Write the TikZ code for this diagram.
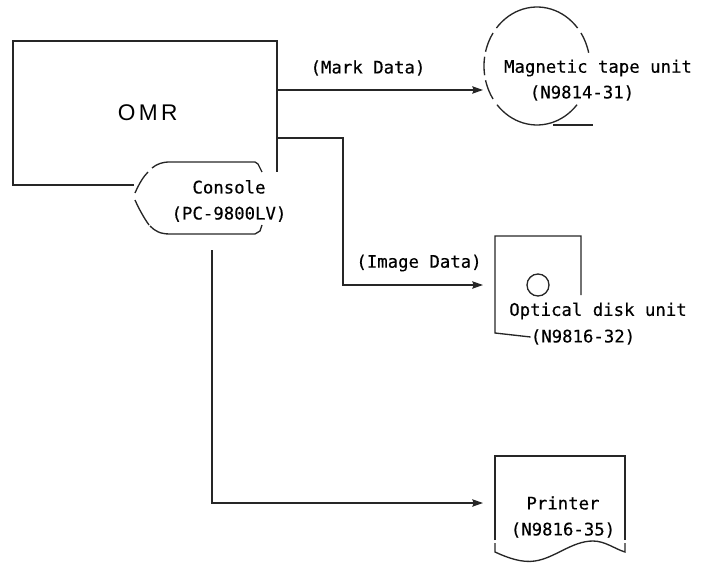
\documentclass[tikz,border=0pt]{standalone}
\usepackage{fontspec}
\setmainfont{Liberation Sans}
\setmonofont{DejaVu Sans Mono}[FakeBold=0.35]
\usetikzlibrary{arrows.meta}
\begin{document}
\begin{tikzpicture}[
  x=0.75pt, y=-0.75pt, >={Stealth[length=8pt,width=5.5pt,inset=1pt]},
  lbl/.style={align=center, font=\fontsize{13}{19.5}\selectfont\ttfamily, inner sep=0pt},
  ln/.style={line width=1pt, black!85},
  e/.style={->, line width=1pt, black!85},
  rim/.style={ln, smooth},
]
\useasboundingbox (0,0) rectangle (703,563);
% OMR and console
\node[font=\fontsize{17}{20}\selectfont, minimum width=198pt, minimum height=108pt, inner sep=0pt] (omr) at (145,113) {\raisebox{-2pt}{\kern4pt O\kern2.5pt M\kern2.5pt R}};
\draw[ln] (134,185) -- (13,185) -- (13,41) -- (277,41) -- (277,172);
\node[lbl] (console) at (229,201) {Console\\(PC-9800LV)};
\draw[ln] (135,193) .. controls (139,184) and (143,177) .. (148,172);
\draw[ln] (152,168) .. controls (157,164) and (162,162) .. (170,162) -- (255,162) -- (258,164) -- (262,172);
\draw[ln] (135,200) .. controls (139,209) and (144,218) .. (149,225);
\draw[ln] (150,226) .. controls (155,231) and (160,234) .. (170,234) -- (255,234) -- (260,231) -- (262,225);
% magnetic tape
\node[lbl] (tapetxt) at (598,68) {Magnetic tape unit};
\node[lbl] (tapeno) at (582,93) {(N9814-31)};
\coordinate (tape) at (537,66);
\foreach \a/\b in {-140/-40, -34/-13, -166/-146, -189/-171, 146/166, 41/139}
  \draw[rim] plot[domain=\a:\b, samples=24] ({537+53*cos(\x)},{66+59*sin(\x)});
\draw[ln] (553,125) -- (593,125);
% optical disk
\node[lbl] (disktxt) at (598,311) {Optical disk unit};
\node[lbl] (diskno) at (583,337) {(N9816-32)};
\node[circle, draw, ln, minimum size=16.5pt, inner sep=0pt] (disk) at (538,285) {};
\draw[ln] (diskno.west) -- (495,333) -- (495,236) -- (581,236) -- (581,295);
% printer
\node[lbl] (printer) at (563,517) {Printer\\(N9816-35)};
\draw[ln] (495,540) -- (495,456) -- (625,456) -- (625,540);
\draw[ln] (495,543) -- (495,552) .. controls (508,558) and (522,563) .. (535,561) .. controls (555,558) and (572,541) .. (593,541) .. controls (605,541) and (615,549) .. (625,552) -- (625,543);
% links
\coordinate (tapein) at (483,90);
\coordinate (diskin) at (483,285);
\coordinate (printerin) at (483,503);
\coordinate (imgturn) at (343,138);
\coordinate (consoleout) at (212,250);
\draw[e] (omr.east |- tapein) -- (tapein);
\draw[e] (omr.east |- imgturn) -- (imgturn) -- (imgturn |- diskin) -- (diskin);
\draw[e] (consoleout) -- (consoleout |- printerin) -- (printerin);
\node[lbl] (marklbl) at (368,68) {(Mark Data)};
\node[lbl] (imglbl) at (419,263) {(Image Data)};
\end{tikzpicture}
\end{document}
